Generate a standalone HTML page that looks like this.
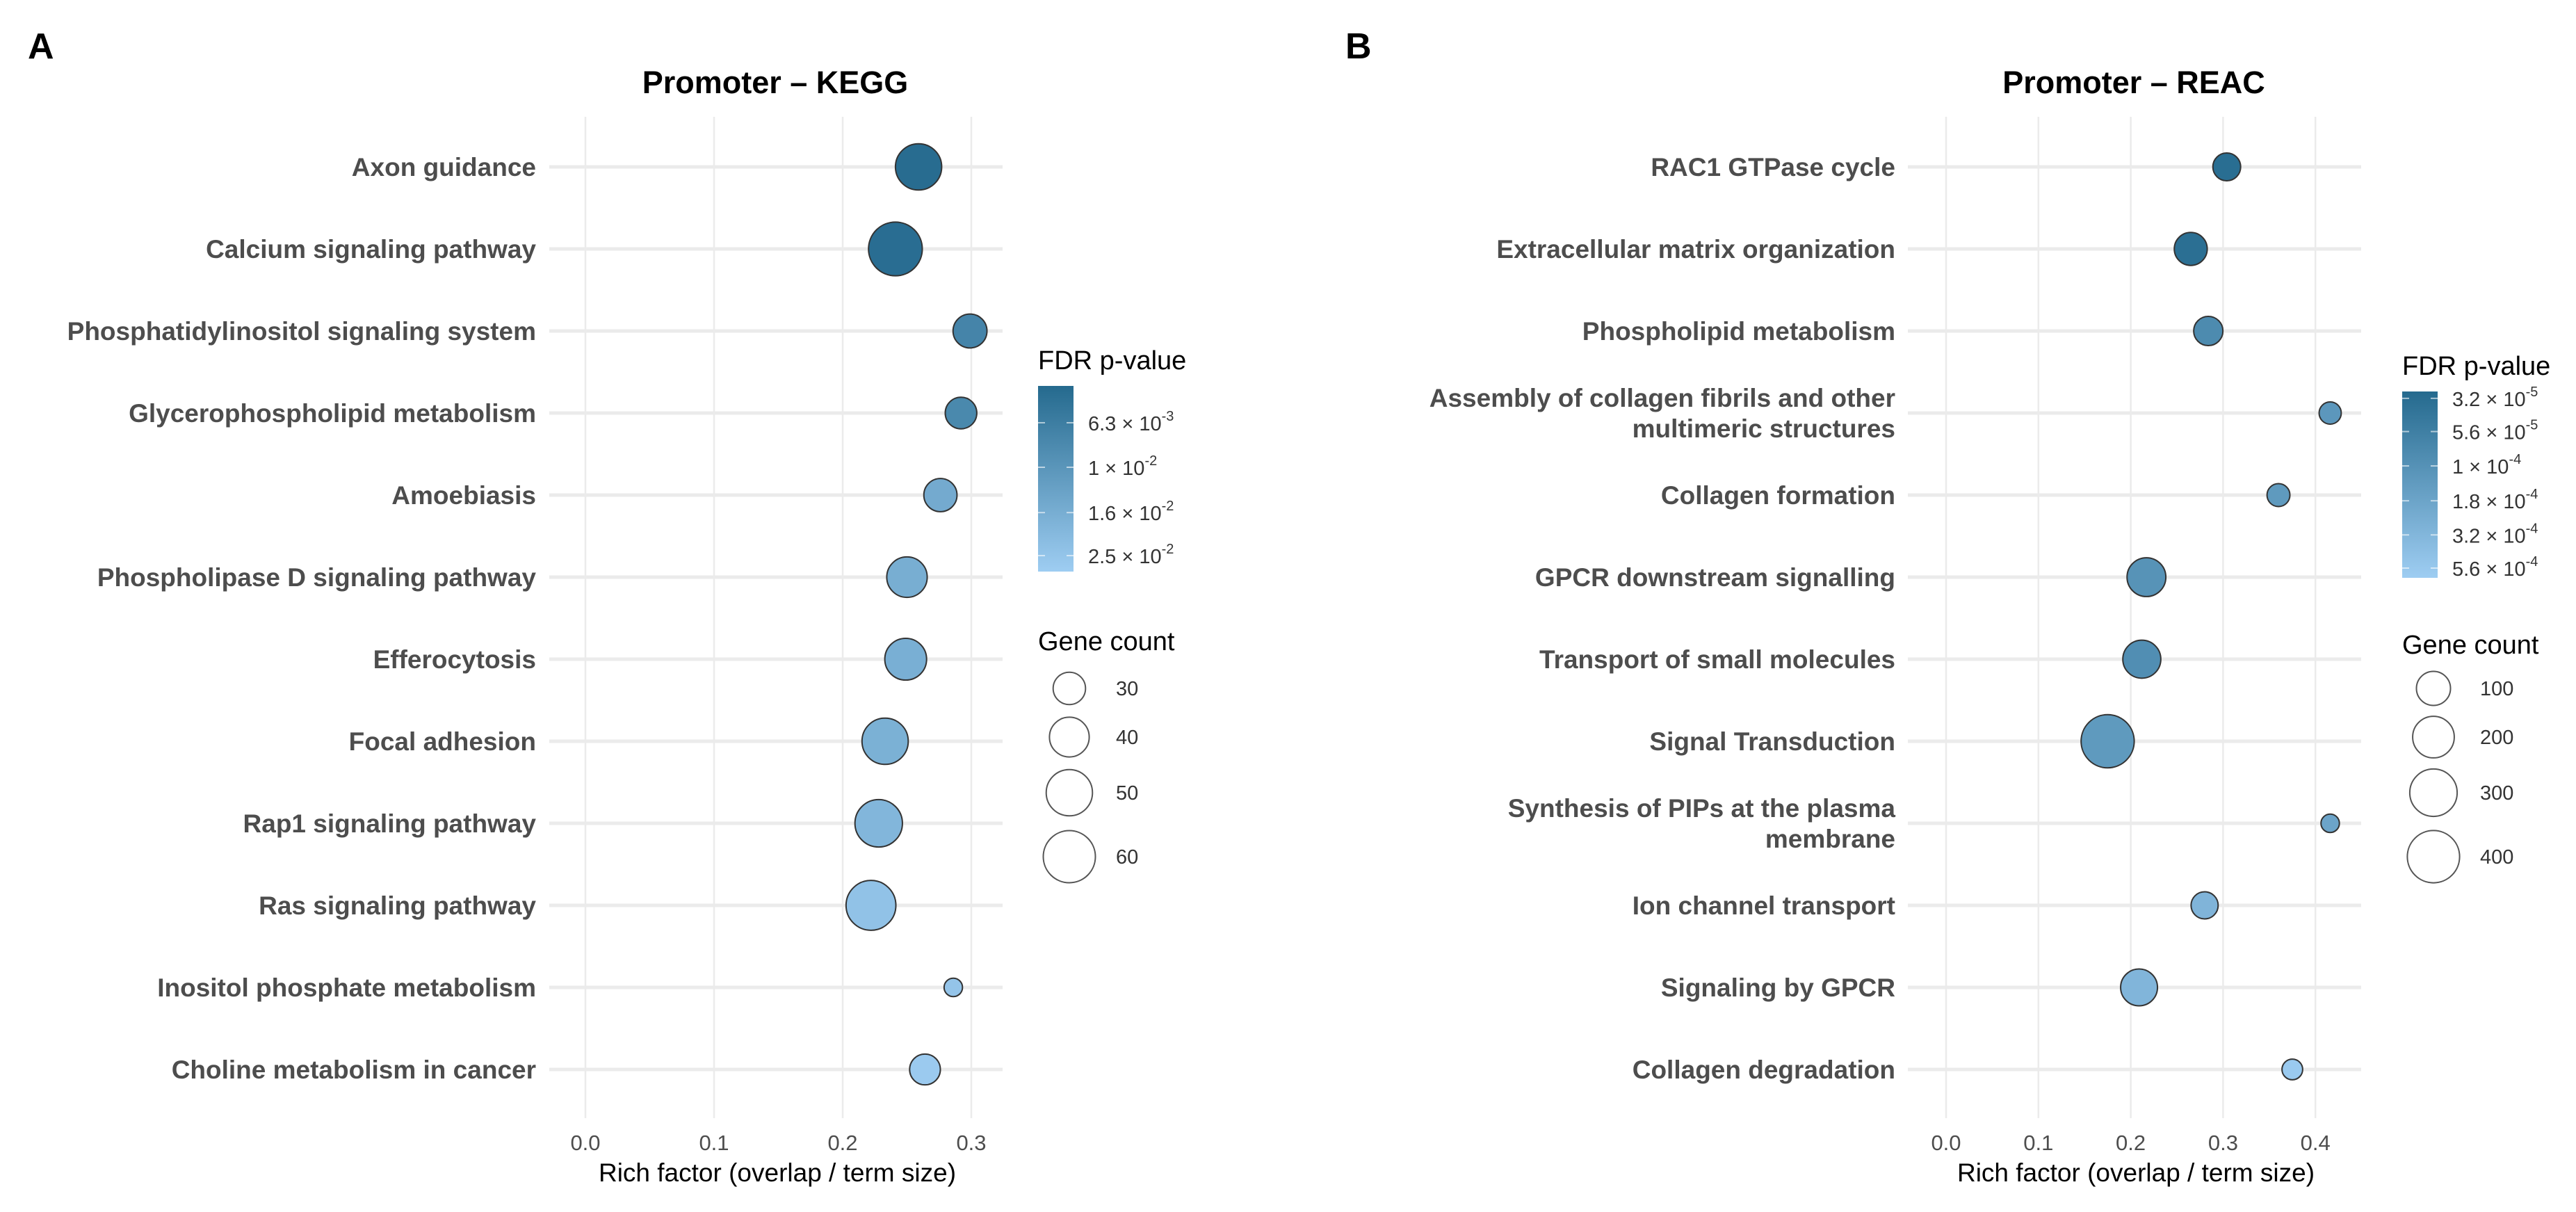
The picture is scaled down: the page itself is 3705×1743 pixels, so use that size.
<!DOCTYPE html>
<html><head><meta charset="utf-8"><style>
html,body{margin:0;padding:0;background:#fff;}
svg{display:block;font-family:"Liberation Sans",Arial,sans-serif;}
</style></head><body>
<svg id="fig" width="3705" height="1743" viewBox="0 0 3705 1743">
<defs>
<linearGradient id="gradA" x1="0" y1="0" x2="0" y2="1"><stop offset="0" stop-color="#256a8e"/><stop offset="1" stop-color="#9ecdf2"/></linearGradient>
<linearGradient id="gradB" x1="0" y1="0" x2="0" y2="1"><stop offset="0" stop-color="#256a8e"/><stop offset="1" stop-color="#9ecdf2"/></linearGradient>
</defs>
<text x="40" y="84" font-size="52" font-weight="bold" fill="#000">A</text>
<text x="1935" y="84" font-size="52" font-weight="bold" fill="#000">B</text>
</svg>
<script>
// ---- Panel A data (KEGG) ----
const keggTerms = ["Axon guidance","Calcium signaling pathway","Phosphatidylinositol signaling system","Glycerophospholipid metabolism","Amoebiasis","Phospholipase D signaling pathway","Efferocytosis","Focal adhesion","Rap1 signaling pathway","Ras signaling pathway","Inositol phosphate metabolism","Choline metabolism in cancer"];
const keggRich = [0.259,0.241,0.299,0.292,0.276,0.250,0.249,0.233,0.228,0.222,0.286,0.264];
const keggCount = [50,63,32,29,31,41,43,50,52,56,15,28];
const keggFdr = [4.5e-3,4.6e-3,7.2e-3,7.8e-3,1.5e-2,1.6e-2,1.65e-2,1.7e-2,1.9e-2,2.4e-2,2.5e-2,2.8e-2];
const keggXTicks = [0.0,0.1,0.2,0.3];
const keggFdrTicks = [6.3e-3,1e-2,1.6e-2,2.5e-2];
const keggFdrTickLabels = [["6.3","-3"],["1","-2"],["1.6","-2"],["2.5","-2"]];
const keggSizeBreaks = [30,40,50,60];
// ---- Panel B data (REAC) ----
const reacTerms = [["RAC1 GTPase cycle"],["Extracellular matrix organization"],["Phospholipid metabolism"],["Assembly of collagen fibrils and other","multimeric structures"],["Collagen formation"],["GPCR downstream signalling"],["Transport of small molecules"],["Signal Transduction"],["Synthesis of PIPs at the plasma","membrane"],["Ion channel transport"],["Signaling by GPCR"],["Collagen degradation"]];
const reacRich = [0.304,0.265,0.284,0.416,0.360,0.217,0.212,0.175,0.416,0.280,0.209,0.375];
const reacCount = [43,88,54,12,15,159,148,419,2,38,133,7];
const reacFdr = [3.2e-5,3.3e-5,8e-5,1.2e-4,1.3e-4,1.05e-4,9e-5,1.3e-4,1.8e-4,3e-4,3.1e-4,6e-4];
const reacXTicks = [0.0,0.1,0.2,0.3,0.4];
const reacFdrTicks = [3.2e-5,5.6e-5,1e-4,1.8e-4,3.2e-4,5.6e-4];
const reacFdrTickLabels = [["3.2","-5"],["5.6","-5"],["1","-4"],["1.8","-4"],["3.2","-4"],["5.6","-4"]];
const reacSizeBreaks = [100,200,300,400];

const NS="http://www.w3.org/2000/svg";
const svg=document.getElementById('fig');
function mk(tag,attrs,parent,txt){const e=document.createElementNS(NS,tag);for(const k in attrs)e.setAttribute(k,attrs[k]);if(txt!==undefined)e.textContent=txt;(parent||svg).appendChild(e);return e;}
function lerpColor(t){const a=[0x25,0x6a,0x8e],b=[0x9e,0xcd,0xf2];t=Math.max(0,Math.min(1,t));return 'rgb('+a.map((v,i)=>Math.round(v+(b[i]-v)*t)).join(',')+')';}

function panel(cfg){
  const g=mk('g',{});
  
  
  const xS=v=>cfg.x0+v*10*cfg.px;
  const yS=i=>cfg.yTop+i*118;
  const rS=c=>Math.max(8,cfg.ra+cfg.rb*Math.sqrt(c));
  const lgTop=Math.log10(cfg.pTop), lgBot=Math.log10(cfg.pBot);
  const cS=p=>(Math.log10(p)-lgTop)/(lgBot-lgTop);
  const barY=p=>cfg.cbTop+cS(p)*(cfg.cbBot-cfg.cbTop);
  const t=mk('text',{x:cfg.titleX,y:134,'font-size':45,'font-weight':'bold','text-anchor':'middle',fill:'#000'},g,cfg.title);
  
  
  cfg.xTicks.forEach(v=>{
    const l=mk('line',{x1:xS(v),x2:xS(v),y1:168,y2:1608,stroke:'#ebebeb','stroke-width':2.5},g);
    
    
    const tx=mk('text',{x:xS(v),y:1654,'font-size':31,'text-anchor':'middle',fill:'#4d4d4d'},g,v.toFixed(1));
    
    
  });
  cfg.terms.forEach((term,i)=>{
    const l=mk('line',{x1:cfg.gx1,x2:cfg.gx2,y1:yS(i),y2:yS(i),stroke:'#ebebeb','stroke-width':5},g);
    
    
    const lines=Array.isArray(term)?term:[term];
    lines.forEach((ln,k)=>{
      const dy=lines.length===1?0:(k===0?-22:22);
      const tx=mk('text',{x:cfg.labelX,y:yS(i)+dy+13,'font-size':37,'font-weight':'bold','text-anchor':'end',fill:'#4d4d4d'},g,ln);
      
      
    });
  });
  cfg.rich.forEach((v,i)=>{
    const c=mk('circle',{cx:xS(v),cy:yS(i),r:rS(cfg.count[i]),fill:lerpColor(cS(cfg.fdr[i])),stroke:'#333','stroke-width':2},g);
    
    
  });
  const xt=mk('text',{x:cfg.xTitleX,y:1699,'font-size':37,'text-anchor':'middle',fill:'#000'},g,'Rich factor (overlap / term size)');
  
  
  const lt=mk('text',{x:cfg.lgX,y:cfg.cbTop-24,'font-size':38,fill:'#000'},g,'FDR p-value');
  
  
  const cb=mk('rect',{x:cfg.lgX,y:cfg.cbTop,width:51,height:cfg.cbBot-cfg.cbTop,fill:'url(#'+cfg.grad+')'},g);
  
  
  cfg.fdrTicks.forEach((p,k)=>{
    const y=barY(p);
    mk('line',{x1:cfg.lgX,x2:cfg.lgX+10,y1:y,y2:y,stroke:'#fff','stroke-width':2,opacity:0.6},g);
    mk('line',{x1:cfg.lgX+41,x2:cfg.lgX+51,y1:y,y2:y,stroke:'#fff','stroke-width':2,opacity:0.6},g);
    const lab=cfg.fdrLabels[k];
    const tx=mk('text',{x:cfg.lgX+72,y:y+11,'font-size':29,fill:'#333'},g);
    
    
    mk('tspan',{},tx,lab[0]+' \u00d7 10');
    mk('tspan',{dy:-14,'font-size':20},tx,lab[1]);
  });
  const st=mk('text',{x:cfg.lgX,y:cfg.szTitleY,'font-size':38,fill:'#000'},g,'Gene count');
  
  
  const sy=[990,1060,1140,1232];
  cfg.sizeBreaks.forEach((c,k)=>{
    const ci=mk('circle',{cx:cfg.lgX+45,cy:sy[k],r:rS(c),fill:'none',stroke:'#555','stroke-width':2},g);
    
    
    const tx=mk('text',{x:cfg.lgX+112,y:sy[k]+10,'font-size':29,fill:'#333'},g,String(c));
    
    
  });
}
panel({name:'panel-a',title:'Promoter \u2013 KEGG',titleX:1115,terms:keggTerms,rich:keggRich,count:keggCount,fdr:keggFdr,xTicks:keggXTicks,
  x0:842,px:185,yTop:240,gx1:790,gx2:1442,labelX:771,xTitleX:1118,ra:-11,rb:6.26,
  pTop:4.3e-3,pBot:2.95e-2,cbTop:555,cbBot:822,grad:'gradA',lgX:1493,fdrTicks:keggFdrTicks,fdrLabels:keggFdrTickLabels,szTitleY:935,sizeBreaks:keggSizeBreaks});
panel({name:'panel-b',title:'Promoter \u2013 REAC',titleX:3069,terms:reacTerms,rich:reacRich,count:reacCount,fdr:reacFdr,xTicks:reacXTicks,
  x0:2799,px:132.8,yTop:240,gx1:2744,gx2:3396,labelX:2726,xTitleX:3072,ra:11.4,rb:1.31,
  pTop:2.85e-5,pBot:6.6e-4,cbTop:563,cbBot:831,grad:'gradB',lgX:3455,fdrTicks:reacFdrTicks,fdrLabels:reacFdrTickLabels,szTitleY:940,sizeBreaks:reacSizeBreaks});
</script>
</body></html>
